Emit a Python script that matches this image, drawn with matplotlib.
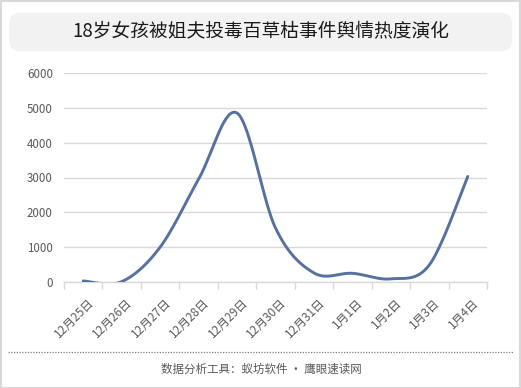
import numpy as np
import matplotlib
matplotlib.use("Agg")
import matplotlib.pyplot as plt
from matplotlib.patches import FancyBboxPatch, Rectangle
from matplotlib.lines import Line2D

plt.rcParams['font.family'] = ['Noto Sans CJK SC', 'DejaVu Sans']

title = "18岁女孩被姐夫投毒百草枯事件舆情热度演化"
footer = "数据分析工具：蚁坊软件 · 鹰眼速读网"
categories = ["12月25日", "12月26日", "12月27日", "12月28日", "12月29日", "12月30日",
              "12月31日", "1月1日", "1月2日", "1月3日", "1月4日"]
values = [30, 10, 1000, 2950, 4850, 1550, 260, 250, 90, 490, 3030]
yticks = [0, 1000, 2000, 3000, 4000, 5000, 6000]


def smooth(xs, ys, n=40):
    xs = np.asarray(xs, float)
    ys = np.asarray(ys, float)
    P = np.column_stack([xs, ys])
    Pe = np.vstack([P[0], P, P[-1]])
    out = []
    t = np.linspace(0, 1, n)[:, None]
    for i in range(len(P) - 1):
        p0, p1, p2, p3 = Pe[i], Pe[i + 1], Pe[i + 2], Pe[i + 3]
        b0 = p1
        b1 = p1 + (p2 - p0) / 6
        b2 = p2 - (p3 - p1) / 6
        b3 = p2
        seg = ((1 - t) ** 3) * b0 + 3 * ((1 - t) ** 2) * t * b1 + 3 * (1 - t) * t ** 2 * b2 + t ** 3 * b3
        out.append(seg if i == 0 else seg[1:])
    out = np.vstack(out)
    return out[:, 0], out[:, 1]


W, H = 521, 388
fig = plt.figure(figsize=(W / 100, H / 100), dpi=100)

# outer border
fig.patches.append(Rectangle((0.5 / W, 0.5 / H), 1 - 1.5 / W, 1 - 1.5 / H, transform=fig.transFigure,
                             fill=False, edgecolor='#d9d9d9', linewidth=1.5))
# title box
fig.patches.append(FancyBboxPatch((9 / W, 1 - 51 / H), 503 / W, 38 / H, transform=fig.transFigure,
                                  boxstyle="round,pad=0,rounding_size=0.02", facecolor='#f2f2f2',
                                  edgecolor='none', mutation_aspect=W / H))
fig.text(261 / W, 1 - 31 / H, title, ha='center', va='center', fontsize=13.5, color='#1a1a1a')

# dotted separator
fig.lines.append(Line2D([8 / W, 513 / W], [1 - 352 / H, 1 - 352 / H], transform=fig.transFigure,
                        color='#7f7f7f', linewidth=0.9, linestyle=(0, (1, 1.2))))
fig.text(261 / W, 1 - 369 / H, footer, ha='center', va='center', fontsize=8.3, color='#595959')

ax = fig.add_axes([64 / W, 1 - 282 / H, 423 / W, 209 / H])
x = np.arange(len(categories))
sx, sy = smooth(x, values)
ax.plot(sx, sy, color='#56719f', linewidth=2.1, solid_capstyle='round', zorder=3)

ax.set_xlim(-0.5, len(categories) - 0.5)
ax.set_ylim(0, 6000)
ax.set_yticks(yticks)
ax.set_yticklabels([str(v) for v in yticks])
ax.yaxis.grid(True, color='#d9d9d9', linewidth=1)
ax.set_axisbelow(True)
for s in ['top', 'right', 'left']:
    ax.spines[s].set_visible(False)
ax.spines['bottom'].set_color('#d9d9d9')
ax.spines['bottom'].set_linewidth(1)
ax.tick_params(axis='y', length=0, pad=8, labelsize=8.3, labelcolor='#595959')

ax.set_xticks(np.arange(len(categories) + 1) - 0.5)
ax.set_xticklabels([])
ax.tick_params(axis='x', length=5, color='#d9d9d9', width=1)
for i, c in enumerate(categories):
    ax.annotate(c, xy=(i, 0), xycoords='data', xytext=(3, -10), textcoords='offset points',
                rotation=45, ha='right', va='top', rotation_mode='anchor',
                fontsize=8.5, color='#595959', annotation_clip=False)

fig.savefig('out.png', dpi=100)
